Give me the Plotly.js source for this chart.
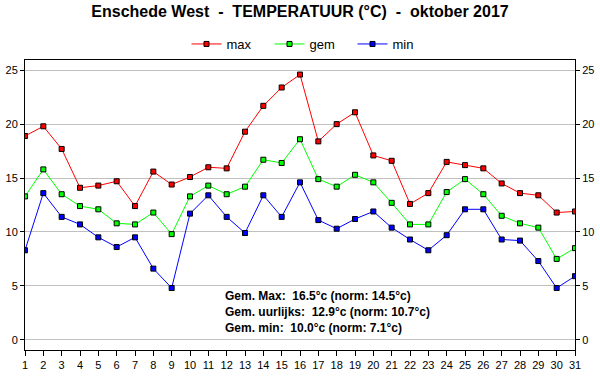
<!DOCTYPE html>
<html><head><meta charset="utf-8">
<script src="https://cdn.plot.ly/plotly-3.0.1.min.js"></script>
<style>body{margin:0;padding:0;background:#fff}#chart{width:600px;height:390px}</style>
</head><body><div id="chart"></div>
<script>
const days = Array.from({length:31},(_,i)=>i+1);
const maxT = [18.9,19.8,17.7,14.1,14.3,14.7,12.4,15.6,14.4,15.1,16.0,15.9,19.3,21.7,23.4,24.6,18.4,20.0,21.1,17.1,16.6,12.6,13.6,16.5,16.2,15.9,14.5,13.6,13.4,11.8,11.9];
const gemT = [13.3,15.8,13.5,12.4,12.1,10.8,10.7,11.8,9.8,13.3,14.3,13.5,14.2,16.7,16.4,18.6,14.9,14.2,15.3,14.6,12.7,10.7,10.7,13.7,14.9,13.5,11.5,10.8,10.4,7.5,8.5];
const minT = [8.3,13.6,11.4,10.7,9.5,8.6,9.5,6.6,4.8,11.7,13.4,11.4,9.9,13.4,11.4,14.6,11.1,10.3,11.2,11.9,10.4,9.3,8.3,9.7,12.1,12.1,9.3,9.2,7.3,4.8,5.9];
const notes = ["Gem. Max:  16.5°c (norm: 14.5°c)","Gem. uurlijks:  12.9°c (norm: 10.7°c)","Gem. min:  10.0°c (norm: 7.1°c)"];
const yTicks = [0,5,10,15,20,25];

function tr(name, y, color){
  return {x:days, y:y, name:name, type:'scatter', mode:'lines+markers',
    line:{color:color,width:1},
    marker:{symbol:'square',size:5,color:color,line:{color:'#000',width:1}}};
}
const data = [tr('max',maxT,'#ff0000'), tr('gem',gemT,'#00ff00'), tr('min',minT,'#0000ff'),
  {x:[1],y:[0],yaxis:'y2',mode:'markers',marker:{opacity:0},showlegend:false,hoverinfo:'skip'}];
const font = {family:'Liberation Sans, Arial, sans-serif', size:12, color:'#000'};
const layout = {
  width:600,height:390,margin:{l:25,r:25,t:60,b:40},
  paper_bgcolor:'#fff',plot_bgcolor:'#fff',font:font,
  title:{text:'<b>Enschede West\u00a0 -\u00a0 TEMPERATUUR (°C)\u00a0 -\u00a0 oktober 2017</b>',
    font:{family:'Liberation Sans, Arial, sans-serif',size:16,color:'#000'},x:0.5,xanchor:'center',y:0.97,yanchor:'middle'},
  showlegend:true,
  legend:{orientation:'h',x:0.52,xanchor:'center',y:(350-44)/290,yanchor:'middle',font:{size:13},itemwidth:30,
    entrywidth:38,entrywidthmode:'pixels',bgcolor:'rgba(0,0,0,0)'},
  xaxis:{range:[1,31],tickvals:days,ticktext:days.map(String),ticks:'outside',ticklen:5,tickcolor:'#000',
    showgrid:false,zeroline:false,showline:true,linecolor:'#000',linewidth:1,mirror:true,tickfont:{size:11},fixedrange:true},
  yaxis:{range:[-0.95,25.95],tickvals:yTicks,ticks:'outside',ticklen:4,tickcolor:'#000',showgrid:true,gridcolor:'#c0c0c0',
    zeroline:false,showline:true,linecolor:'#000',linewidth:1,tickfont:{size:11}},
  yaxis2:{range:[-0.95,25.95],tickvals:yTicks,overlaying:'y',side:'right',ticks:'outside',ticklen:4,tickcolor:'#000',
    showgrid:false,zeroline:false,showline:true,linecolor:'#000',linewidth:1,tickfont:{size:11}},
  annotations: notes.map((t,i)=>({text:'<b>'+t+'</b>',xref:'paper',yref:'paper',x:(223-25)/550,y:(350-(296+16*i))/290,
    xanchor:'left',yanchor:'middle',showarrow:false,font:{size:12,color:'#000'}}))
};
Plotly.newPlot('chart',data,layout,{displayModeBar:false,staticPlot:true});
</script></body></html>
